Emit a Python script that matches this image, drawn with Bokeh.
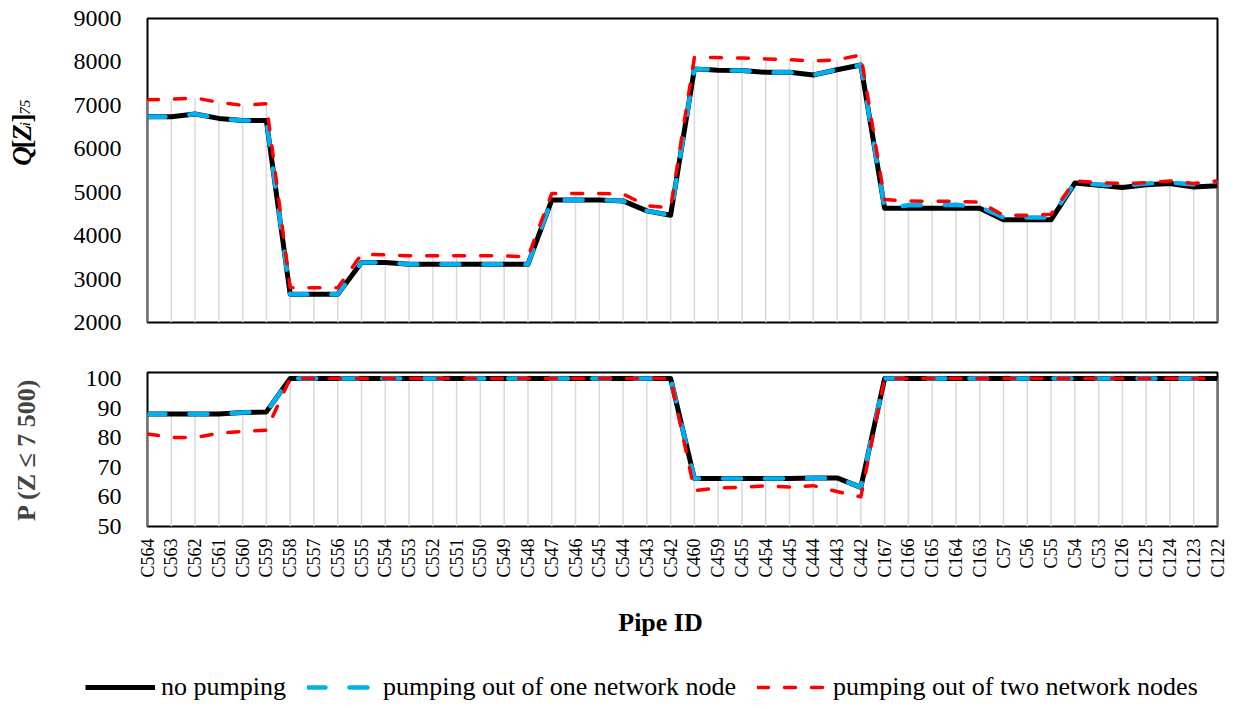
import math
from bokeh.plotting import figure
from bokeh.models import Range1d, FixedTicker, Label, Legend, LegendItem
from bokeh.layouts import column, row
from bokeh.embed import file_html
from bokeh.resources import INLINE

# ---------------- data ----------------
pipe_ids = ["C564", "C563", "C562", "C561", "C560", "C559", "C558", "C557", "C556", "C555",
            "C554", "C553", "C552", "C551", "C550", "C549", "C548", "C547", "C546", "C545",
            "C544", "C543", "C542", "C460", "C459", "C455", "C454", "C445", "C444", "C443",
            "C442", "C167", "C166", "C165", "C164", "C163", "C57", "C56", "C55", "C54",
            "C53", "C126", "C125", "C124", "C123", "C122"]

q_no_pumping = [6740, 6740, 6800, 6700, 6650, 6650, 2650, 2650, 2650, 3380,
                3380, 3340, 3340, 3340, 3340, 3340, 3340, 4820, 4820, 4820,
                4800, 4570, 4470, 7840, 7810, 7800, 7760, 7760, 7700, 7820,
                7930, 4630, 4630, 4630, 4630, 4630, 4365, 4365, 4365, 5210,
                5160, 5110, 5170, 5200, 5120, 5150]
q_one_node = [6740, 6740, 6800, 6700, 6650, 6650, 2650, 2650, 2650, 3380,
              3380, 3340, 3340, 3340, 3340, 3340, 3340, 4820, 4820, 4820,
              4800, 4570, 4470, 7840, 7810, 7800, 7760, 7760, 7700, 7820,
              7930, 4630, 4700, 4700, 4710, 4660, 4420, 4420, 4420, 5220,
              5180, 5150, 5200, 5220, 5180, 5200]
q_two_nodes = [7130, 7140, 7170, 7070, 7000, 7040, 2800, 2800, 2800, 3570,
               3560, 3535, 3535, 3535, 3535, 3535, 3510, 4970, 4970, 4970,
               4960, 4690, 4640, 8100, 8100, 8090, 8070, 8050, 8020, 8050,
               8160, 4830, 4800, 4790, 4790, 4770, 4470, 4470, 4490, 5260,
               5220, 5200, 5220, 5260, 5200, 5260]

p_no_pumping = [88.0, 88.0, 88.0, 88.0, 88.5, 88.7, 100, 100, 100, 100,
                100, 100, 100, 100, 100, 100, 100, 100, 100, 100,
                100, 100, 100, 66.2, 66.2, 66.2, 66.2, 66.2, 66.4, 66.4,
                63.2, 100, 100, 100, 100, 100, 100, 100, 100, 100,
                100, 100, 100, 100, 100, 100]
p_one_node = [88.0, 88.0, 88.0, 88.0, 88.5, 88.7, 100, 100, 100, 100,
              100, 100, 100, 100, 100, 100, 100, 100, 100, 100,
              100, 100, 100, 66.2, 66.2, 66.2, 66.2, 66.2, 66.4, 66.4,
              63.2, 100, 100, 100, 100, 100, 100, 100, 100, 100,
              100, 100, 100, 100, 100, 100]
p_two_nodes = [81.2, 80.1, 80.0, 81.5, 82.1, 82.5, 100, 100, 100, 100,
               100, 100, 100, 100, 100, 100, 100, 100, 100, 100,
               100, 100, 100, 62.1, 63.0, 63.2, 63.8, 63.3, 63.8, 61.8,
               60.0, 100, 100, 100, 100, 100, 100, 100, 100, 100,
               100, 100, 100, 100, 100, 100]

q_ticks = [2000, 3000, 4000, 5000, 6000, 7000, 8000, 9000]
p_ticks = [50, 60, 70, 80, 90, 100]

series_names = ["no pumping", "pumping out of one network node", "pumping out of two network nodes"]
x_title = "Pipe ID"
p_title = "P (Z \u2264 7 500)"

# ---------------- style ----------------
FONT = "Liberation Serif"
BLACK = "#000000"
BLUE = "#00B0F0"
RED = "#FF0000"
DROP = "#D9D9D9"
FRAME_W = 1070
FRAME_LEFT = 147
LABEL_COL_W = 60
RIGHT_B = 12
TOTAL_W = FRAME_LEFT + FRAME_W + RIGHT_B

x = list(range(len(pipe_ids)))

line_styles = [dict(line_color=BLACK, line_width=5, line_join="round"),
               dict(line_color=BLUE, line_width=4.5, line_dash="18 24", line_cap="round", line_join="round"),
               dict(line_color=RED, line_width=3.5, line_dash="11 16", line_cap="round", line_join="round")]


def style_common(p):
    p.xgrid.visible = False
    p.ygrid.visible = False
    p.outline_line_color = "black"
    p.outline_line_width = 2
    p.outline_line_alpha = 1
    p.background_fill_color = "white"
    p.border_fill_color = "white"


def style_yaxis(ax, ticks):
    ax.ticker = FixedTicker(ticks=ticks)
    ax.major_label_text_font = FONT
    ax.major_label_text_font_size = "24px"
    ax.major_label_text_color = "black"
    ax.major_tick_out = 0
    ax.major_tick_in = 0
    ax.minor_tick_out = 0
    ax.minor_tick_in = 0
    ax.axis_line_color = None
    ax.major_label_standoff = 26


def draw_series(p, a, b, c):
    tops = [max(v) for v in zip(a, b, c)]
    base = [p.y_range.start for _ in x]
    p.segment(x0=x, y0=base, x1=x, y1=tops, line_color=DROP, line_width=1.5)
    return [p.line(x, s, **st) for s, st in zip((a, b, c), line_styles)]


def blank(p):
    p.xgrid.visible = False
    p.ygrid.visible = False
    p.outline_line_color = None
    p.background_fill_color = "white"
    p.border_fill_color = "white"


# ---------------- top panel ----------------
TOP_H = 18 + 304 + 25
p1 = figure(frame_width=FRAME_W, frame_height=304,
            x_range=Range1d(0, len(pipe_ids) - 1), y_range=Range1d(2000, 9000),
            x_axis_location=None, output_backend="svg", toolbar_location=None,
            min_border_left=FRAME_LEFT - LABEL_COL_W, min_border_right=RIGHT_B,
            min_border_top=18, min_border_bottom=25)
style_common(p1)
style_yaxis(p1.yaxis[0], q_ticks)
draw_series(p1, q_no_pumping, q_one_node, q_two_nodes)

# column holding the rotated y-axis title Q[Z_i]_75 (coordinates = pixels)
qlab = figure(width=LABEL_COL_W, height=TOP_H, x_range=Range1d(0, LABEL_COL_W),
              y_range=Range1d(TOP_H, 0), x_axis_location=None, y_axis_location=None,
              output_backend="svg", toolbar_location=None, min_border=0)
blank(qlab)
pieces = [("Q", "bold italic", 27, 0.722, 21), ("[", "bold", 27, 0.333, 21),
          ("Z", "bold italic", 27, 0.611, 21), ("i", "italic", 15, 0.278, 24),
          ("]", "bold", 27, 0.333, 21), ("75", "italic", 15, 1.0, 24)]
ypos = 168.0
for txt, style, size, em, base_px in pieces:
    qlab.add_layout(Label(x=base_px, y=ypos, text=txt, angle=math.pi / 2,
                          text_font=FONT, text_font_style=style, text_font_size=f"{size}px",
                          text_color="black", text_baseline="alphabetic", text_align="left"))
    ypos -= em * size

# ---------------- bottom panel ----------------
p2 = figure(frame_width=FRAME_W, frame_height=154,
            x_range=Range1d(0, len(pipe_ids) - 1), y_range=Range1d(50, 102),
            output_backend="svg", toolbar_location=None,
            min_border_left=FRAME_LEFT, min_border_right=RIGHT_B, min_border_top=25, min_border_bottom=60)
style_common(p2)
style_yaxis(p2.yaxis[0], p_ticks)
p2.yaxis.axis_label = p_title
p2.yaxis.axis_label_text_font = FONT
p2.yaxis.axis_label_text_font_style = "bold"
p2.yaxis.axis_label_text_font_size = "26px"
p2.yaxis.axis_label_standoff = 42

xa = p2.xaxis[0]
xa.ticker = FixedTicker(ticks=x)
xa.major_label_overrides = {i: name for i, name in enumerate(pipe_ids)}
xa.major_label_orientation = math.pi / 2
xa.major_label_text_font = FONT
xa.major_label_text_font_size = "18px"
xa.major_label_text_color = "black"
xa.major_label_standoff = 12
xa.major_tick_out = 0
xa.major_tick_in = 0
xa.minor_tick_out = 0
xa.minor_tick_in = 0
xa.axis_line_color = None

draw_series(p2, p_no_pumping, p_one_node, p_two_nodes)

# ---------------- x title + legend strip (coordinates = pixels) ----------------
LEG_H = 120
lf = figure(width=TOTAL_W, height=LEG_H, x_range=Range1d(0, TOTAL_W), y_range=Range1d(LEG_H, 0),
            x_axis_location=None, y_axis_location=None,
            output_backend="svg", toolbar_location=None, min_border=0)
blank(lf)
lf.add_layout(Label(x=660, y=36, text=x_title, text_font=FONT, text_font_style="bold",
                    text_font_size="26px", text_color="black", text_align="center",
                    text_baseline="middle"))
# proxies of the three series (data lie outside this strip's ranges, only their legend glyphs show)
leg_renderers = [lf.line(x, [-v for v in s], **st)
                 for s, st in zip((q_no_pumping, q_one_node, q_two_nodes), line_styles)]
legend = Legend(items=[LegendItem(label=n, renderers=[r]) for n, r in zip(series_names, leg_renderers)],
                orientation="horizontal", location=(85, 4),
                label_text_font=FONT, label_text_font_size="26px", label_text_color="black",
                glyph_width=70, glyph_height=20, label_standoff=6, spacing=21,
                padding=0, margin=0, border_line_color=None, background_fill_alpha=0)
lf.add_layout(legend)

charts = column(row(qlab, p1, spacing=0), p2, spacing=0)
layout = column(charts, lf, spacing=0)
open("out.html", "w").write(file_html(layout, INLINE, "chart"))
